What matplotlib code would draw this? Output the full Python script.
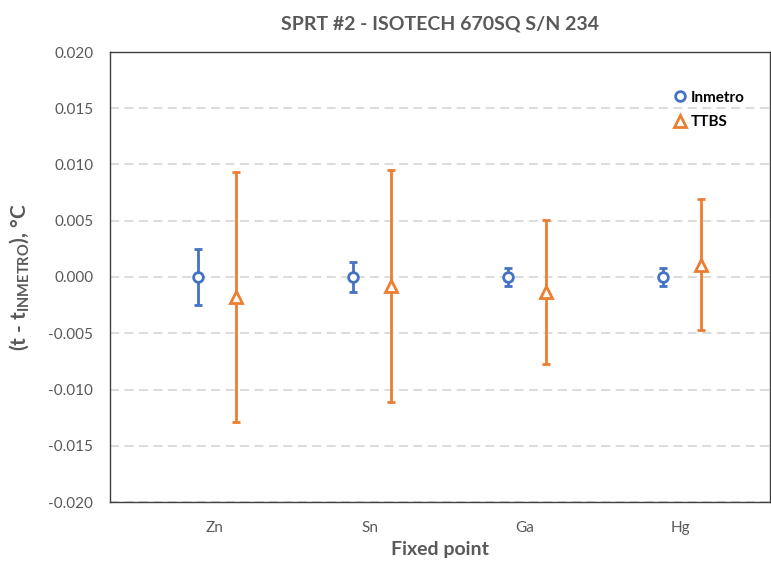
import matplotlib
matplotlib.use("Agg")
import matplotlib.pyplot as plt
from matplotlib.lines import Line2D
import numpy as np

plt.rcParams["font.family"] = ["Lato", "DejaVu Sans"]
plt.rcParams["mathtext.fontset"] = "custom"
plt.rcParams["mathtext.rm"] = "Lato"
plt.rcParams["mathtext.bf"] = "Lato:bold"

fixed_points = ["Zn", "Sn", "Ga", "Hg"]

inmetro_vals = [0.0, 0.0, 0.0, 0.0]
inmetro_err = [0.0025, 0.0013, 0.0008, 0.0008]

ttbs_vals = [-0.0018, -0.0008, -0.0013, 0.0011]
ttbs_err = [0.0111, 0.0103, 0.0064, 0.0058]

blue = "#4472C4"
orange = "#ED7D31"
grey_txt = "#595959"

fig = plt.figure(figsize=(7.71, 5.71), dpi=100)
ax = fig.add_axes([110 / 771, 69 / 571, 660 / 771, 450 / 571])

x = np.arange(1, len(fixed_points) + 1)

ax.errorbar(x - 0.11, inmetro_vals, yerr=inmetro_err, fmt="o", color=blue,
            mfc="white", mec=blue, mew=2, ms=7, elinewidth=2, capsize=3,
            capthick=2, zorder=3)
ax.errorbar(x + 0.135, ttbs_vals, yerr=ttbs_err, fmt="^", color=orange,
            mfc="white", mec=orange, mew=2, ms=9, elinewidth=2, capsize=3,
            capthick=2, zorder=3)

ax.set_xlim(0.323, 4.58)
ax.set_ylim(-0.020, 0.020)
yt = np.arange(-0.020, 0.0201, 0.005)
ax.set_yticks(yt)
ax.set_yticklabels([f"{v:.3f}" for v in yt])
ax.set_xticks(x)
ax.set_xticklabels(fixed_points)
ax.tick_params(axis="both", length=0, labelsize=11, colors=grey_txt)
ax.tick_params(axis="y", pad=12)
ax.tick_params(axis="x", pad=14)

ax.grid(axis="y", color="#D9D9D9", linestyle=(0, (5, 3)), linewidth=1.3)
ax.set_axisbelow(True)
for s in ax.spines.values():
    s.set_color("#404040")
    s.set_linewidth(1.0)

ax.set_title("SPRT #2 - ISOTECH 670SQ S/N 234", fontsize=14, fontweight="bold",
             color=grey_txt, pad=16)
ax.set_ylabel(r"(t - t$_{\mathbf{INMETRO}}$), °C", fontsize=15,
              fontweight="bold", color=grey_txt, labelpad=12)
ax.set_xlabel("Fixed point", fontsize=14, fontweight="bold", color=grey_txt,
              labelpad=4)

handles = [
    Line2D([], [], ls="none", marker="o", mfc="white", mec=blue, mew=2, ms=7),
    Line2D([], [], ls="none", marker="^", mfc="white", mec=orange, mew=2, ms=9),
]
ax.legend(handles, ["Inmetro", "TTBS"], loc="upper right",
          bbox_to_anchor=(0.982, 0.945), frameon=False, handletextpad=0.2,
          handlelength=1.0, labelspacing=0.7, labelcolor="black",
          prop={"weight": "bold", "size": 11})

fig.savefig("out.png", dpi=100)
